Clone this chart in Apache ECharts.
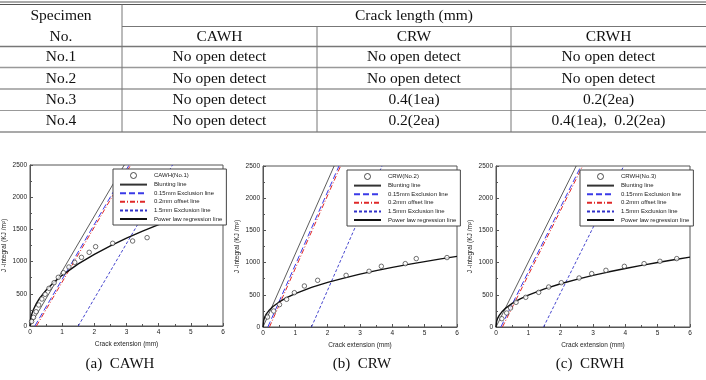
<!DOCTYPE html>
<html><head><meta charset="utf-8">
<script src="https://cdn.jsdelivr.net/npm/echarts@6/dist/echarts.min.js"></script>
<style>html,body{margin:0;padding:0;background:#fff}#c{width:706px;height:380px}</style>
</head><body><div id="c"></div>
<script>
// ---------- table data ----------
const headerSpecimen = ['Specimen', 'No.'];
const headerGroup = 'Crack length (mm)';
const columns = ['CAWH', 'CRW', 'CRWH'];
const specimens = ['No.1', 'No.2', 'No.3', 'No.4'];
const crackLength = [
  ['No open detect', 'No open detect', 'No open detect'],
  ['No open detect', 'No open detect', 'No open detect'],
  ['No open detect', '0.4(1ea)', '0.2(2ea)'],
  ['No open detect', '0.2(2ea)', '0.4(1ea),  0.2(2ea)']
];
const captions = ['(a)  CAWH', '(b)  CRW', '(c)  CRWH'];

// ---------- chart data ----------
const scatterNames = ['CAWH(No.1)', 'CRW(No.2)', 'CRWH(No.3)'];
const lineNames = ['Blunting line', '0.15mm Exclusion line', '0.2mm offset line', '1.5mm Exclusion line', 'Power law regression line'];

const cawhPoints = [[0.05,70],[0.11,135],[0.19,222],[0.27,326],[0.37,419],[0.47,492],[0.59,585],[0.75,673],[0.88,756],[1.04,828],[1.21,916],[1.39,988],[1.6,1066],[1.84,1144],[2.04,1232],[2.57,1284],[3.19,1320],[3.64,1372]];
const crwPoints = [[0.14,155],[0.33,248],[0.51,347],[0.73,430],[0.97,533],[1.28,637],[1.69,725],[2.57,802],[3.28,865],[3.66,943],[4.40,984],[4.74,1062],[5.69,1078]];
const crwhPoints = [[0.18,129],[0.33,217],[0.45,295],[0.62,383],[0.92,461],[1.32,538],[1.63,621],[2.02,688],[2.57,761],[2.96,829],[3.40,880],[3.97,942],[4.58,984],[5.07,1020],[5.59,1062]];

const cawhBlunting = [[0,0],[2.93,2500]];
const cawhExcl015 = [[0.15,0],[3.08,2500]];
const cawhOffset02 = [[0.2,0],[3.13,2500]];
const cawhExcl15 = [[1.5,0],[4.43,2500]];
const cawhPower = [[0,0],[0.02,111],[0.05,176],[0.1,249],[0.2,352],[0.3,431],[0.5,556],[0.75,682],[1,787],[1.5,964],[2,1113],[2.5,1244],[3,1363],[3.5,1472],[4,1574],[4.5,1670],[5,1760],[5.5,1846],[6,1928]];

const crwBlunting = [[0,0],[2.2,2500]];
const crwExcl015 = [[0.15,0],[2.35,2500]];
const crwOffset02 = [[0.2,0],[2.4,2500]];
const crwExcl15 = [[1.5,0],[3.68,2500]];
const crwPower = [[0,0],[0.02,101],[0.05,149],[0.1,199],[0.2,265],[0.3,314],[0.5,389],[0.75,460],[1,519],[1.5,615],[2,693],[2.5,760],[3,821],[3.5,875],[4,925],[4.5,972],[5,1015],[5.5,1057],[6,1096]];

const crwhBlunting = [[0,0],[2.48,2500]];
const crwhExcl015 = [[0.15,0],[2.63,2500]];
const crwhOffset02 = [[0.2,0],[2.68,2500]];
const crwhExcl15 = [[1.47,0],[3.95,2500]];
const crwhPower = [[0,0],[0.02,90],[0.05,134],[0.1,181],[0.2,246],[0.3,293],[0.5,366],[0.75,437],[1,496],[1.5,592],[2,671],[2.5,740],[3,802],[3.5,857],[4,909],[4.5,957],[5,1002],[5.5,1045],[6,1085]];

const chartSets = [
  {points: cawhPoints, lines: [cawhBlunting, cawhExcl015, cawhOffset02, cawhExcl15, cawhPower]},
  {points: crwPoints, lines: [crwBlunting, crwExcl015, crwOffset02, crwExcl15, crwPower]},
  {points: crwhPoints, lines: [crwhBlunting, crwhExcl015, crwhOffset02, crwhExcl15, crwhPower]}
];

// ---------- layout ----------
const gridBoxes = [
  {left: 29, top: 165, width: 194, height: 161},
  {left: 263, top: 166, width: 194, height: 161},
  {left: 496, top: 166, width: 194, height: 161}
];
const legendPos = [{left: 113, top: 169}, {left: 347, top: 170}, {left: 580, top: 170}];
const captionX = [120, 362, 590];

const lineStyles = [
  {color: '#333', width: 0.8, type: 'solid'},
  {color: '#3a3ae8', width: 1, type: [6, 3]},
  {color: '#e02828', width: 1, type: [5, 2, 1, 2]},
  {color: '#3030c8', width: 0.9, type: [3, 2]},
  {color: '#111', width: 1.4, type: 'solid'}
];

const sans = '"Liberation Sans", Arial, sans-serif';
const serif = '"Liberation Serif", "DejaVu Serif", serif';

const series = [];
chartSets.forEach((set, i) => {
  set.lines.forEach((d, k) => {
    series.push({
      type: 'line', name: lineNames[k], xAxisIndex: i, yAxisIndex: i,
      data: d, symbol: 'none', lineStyle: lineStyles[k], silent: true, animation: false, z: 2
    });
  });
  series.push({
    type: 'scatter', name: scatterNames[i], xAxisIndex: i, yAxisIndex: i,
    data: set.points, symbol: 'circle', symbolSize: 4.5,
    itemStyle: {color: '#fff', borderColor: '#222', borderWidth: 0.8}, animation: false, z: 3
  });
});

const axisCommon = {
  axisLine: {show: true, onZero: false, lineStyle: {color: '#555', width: 1}},
  axisTick: {show: true, inside: true, length: 3, lineStyle: {color: '#555'}},
  minorTick: {show: true, splitNumber: 2, length: 2, lineStyle: {color: '#555'}},
  splitLine: {show: false},
  axisLabel: {fontSize: 6.5, color: '#222', fontFamily: sans, margin: 3, formatter: v => String(v)}
};

const xAxes = gridBoxes.map((g, i) => Object.assign({}, axisCommon, {
  type: 'value', gridIndex: i, min: 0, max: 6, interval: 1,
  name: 'Crack extension (mm)', nameLocation: 'middle', nameGap: 15,
  nameTextStyle: {fontSize: 6.5, color: '#222', fontFamily: sans}
}));
const yAxes = gridBoxes.map((g, i) => Object.assign({}, axisCommon, {
  type: 'value', gridIndex: i, min: 0, max: 2500, interval: 500,
  name: 'J -integral (KJ /m\u00b2)', nameLocation: 'middle', nameGap: 22, nameRotate: 90,
  nameTextStyle: {fontSize: 6.5, color: '#222', fontFamily: sans}
}));

const legends = gridBoxes.map((g, i) => ({
  orient: 'vertical', left: legendPos[i].left, top: legendPos[i].top,
  data: [{name: scatterNames[i], icon: 'circle', itemStyle: {color: '#fff', borderColor: '#222', borderWidth: 1}}]
    .concat(lineNames.map(n => ({name: n, itemStyle: {opacity: 0}}))),
  backgroundColor: '#fff', borderColor: '#444', borderWidth: 1, padding: [3, 4, 3, 6],
  itemWidth: 27, itemHeight: 6, itemGap: 2.6, selectedMode: false,
  textStyle: {fontSize: 6, color: '#222', fontFamily: sans, padding: [0, 0, 0, 2]}
}));

// ---------- table graphics ----------
const colCenter = [61, 219.5, 414, 608.5];
const rowCenter = [57, 78.5, 100, 121];
const g = [];
function hline(y, x1, x2, w, c) { g.push({type: 'line', shape: {x1: x1, y1: y, x2: x2, y2: y}, style: {stroke: c, lineWidth: w}, silent: true}); }
function vline(x, y1, y2, w, c) { g.push({type: 'line', shape: {x1: x, y1: y1, x2: x, y2: y2}, style: {stroke: c, lineWidth: w}, silent: true}); }
function txt(s, x, y, size) { g.push({type: 'text', x: x, y: y, style: {text: s, fill: '#111', font: size + 'px ' + serif, align: 'center', verticalAlign: 'middle'}, silent: true}); }

hline(2, 0, 706, 1, '#555');
hline(4.5, 0, 706, 1, '#555');
hline(26.5, 122, 706, 1, '#777');
hline(46.5, 0, 706, 1.5, '#777');
hline(67.5, 0, 706, 1.5, '#999');
hline(89, 0, 706, 1.5, '#999');
hline(110.5, 0, 706, 1, '#999');
hline(132, 0, 706, 1.2, '#555');
vline(122, 4.5, 132, 1, '#777');
vline(317, 26.5, 132, 1, '#777');
vline(511, 26.5, 132, 1, '#777');

const tf = 15.5;
txt(headerSpecimen[0], colCenter[0], 16, tf);
txt(headerSpecimen[1], colCenter[0], 37, tf);
txt(headerGroup, 414, 16, tf);
columns.forEach((c, j) => txt(c, colCenter[j + 1], 37, tf));
specimens.forEach((s, r) => {
  txt(s, colCenter[0], rowCenter[r], tf);
  crackLength[r].forEach((v, j) => txt(v, colCenter[j + 1], rowCenter[r], tf));
});
captions.forEach((c, i) => txt(c, captionX[i], 364, 15));

const chart = echarts.init(document.getElementById('c'), null, {renderer: 'canvas'});
chart.setOption({
  backgroundColor: '#fff',
  animation: false,
  grid: gridBoxes.map(b => Object.assign({show: true, borderColor: '#555', borderWidth: 1, backgroundColor: 'transparent'}, b)),
  xAxis: xAxes,
  yAxis: yAxes,
  legend: legends,
  series: series,
  graphic: g
});
</script>
</body></html>
